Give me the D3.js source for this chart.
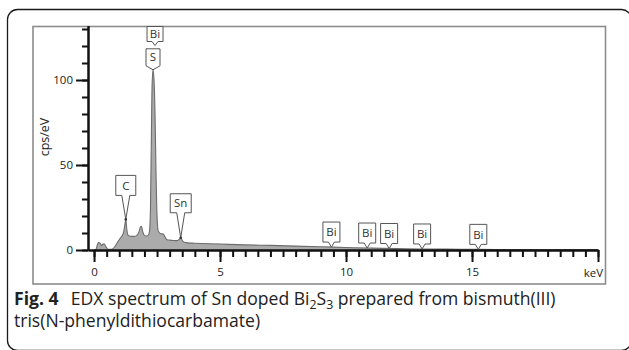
<!DOCTYPE html>
<html>
<head>
<meta charset="utf-8">
<script src="https://cdn.jsdelivr.net/npm/d3@7/dist/d3.min.js"></script>
<style>
  html, body { margin: 0; padding: 0; background: #fff; }
  svg { display: block; }
</style>
</head>
<body>
<svg id="fig" width="629" height="350"></svg>
<script>
// EDX spectrum of Sn doped Bi2S3: energy (keV) vs intensity (cps/eV)
const energyKeV = [
  0.00, 0.08, 0.13, 0.18, 0.24, 0.30, 0.34, 0.40, 0.46, 0.52, 0.58, 0.65,
  0.75, 0.85, 0.95, 1.05, 1.12, 1.18, 1.22, 1.26, 1.30, 1.34, 1.40, 1.50,
  1.60, 1.70, 1.78, 1.84, 1.88, 1.93, 2.00, 2.08, 2.15, 2.20, 2.24, 2.27,
  2.30, 2.34, 2.38, 2.42, 2.46, 2.50, 2.55, 2.65, 2.75, 2.82, 2.90, 3.00,
  3.15, 3.30, 3.38, 3.44, 3.50, 3.58, 3.70, 4.00, 5.00, 6.00, 7.00, 8.00,
  9.00, 10.00, 11.00, 12.00, 13.00, 14.00, 15.00, 16.00, 18.00, 20.00
];
const countsCps = [
  0.0, 0.5, 3.0, 4.4, 4.0, 2.6, 3.4, 3.6, 2.2, 0.8, 0.4, 0.4,
  0.8, 2.5, 5.0, 7.2, 8.5, 11.0, 14.5, 18.0, 12.0, 9.0, 8.2, 8.0,
  8.0, 8.6, 10.5, 13.5, 14.0, 11.0, 8.6, 8.2, 8.6, 11.0, 25.0, 60.0,
  95.0, 106.0, 100.0, 80.0, 45.0, 20.0, 11.0, 9.6, 9.4, 7.5, 6.0, 5.8,
  5.6, 5.5, 6.2, 7.2, 5.6, 4.5, 4.2, 4.0, 3.5, 3.0, 2.7, 2.3,
  1.9, 1.5, 1.1, 0.8, 0.6, 0.5, 0.4, 0.3, 0.2, 0.2
];

// Identified emission lines
const lineElements = ["Bi", "S", "C", "Sn", "Bi", "Bi", "Bi", "Bi", "Bi"];
const lineEnergies = [2.42, 2.34, 1.26, 3.44, 9.42, 10.84, 11.71, 13.02, 15.25];

// Axis ticks
const xMajorTicks = [0, 5, 10, 15, 20];
const xMinorTicks = d3.range(0, 20.01, 0.5);
const yMajorTicks = [0, 50, 100];
const yMinorTicks = d3.range(0, 131, 10);

const svg = d3.select("#fig");
const uiFont = "'Open Sans', sans-serif";

// outer figure border
svg.append("rect")
  .attr("x", 7.5).attr("y", 9.5)
  .attr("width", 624).attr("height", 341)
  .attr("rx", 10).attr("ry", 10)
  .attr("fill", "none").attr("stroke", "#1a1a1a").attr("stroke-width", 1.3);

// plot panel border
svg.append("rect")
  .attr("x", 33).attr("y", 26.5)
  .attr("width", 572.5).attr("height", 257.5)
  .attr("fill", "#fff").attr("stroke", "#8c8c8c").attr("stroke-width", 1.6);

const x = d3.scaleLinear().domain([-0.24, 20]).range([88, 598]);
const y = d3.scaleLinear().domain([0, 132]).range([250, 25.6]);

const pts = energyKeV.map((e, i) => [e, countsCps[i]]);

// spectrum fill and outline
svg.append("path")
  .datum(pts)
  .attr("fill", "#ababab")
  .attr("d", d3.area().x(d => x(d[0])).y0(y(0)).y1(d => y(d[1])).curve(d3.curveMonotoneX));
svg.append("path")
  .datum(pts)
  .attr("fill", "none")
  .attr("stroke", "#6c6c6c")
  .attr("stroke-width", 1.1)
  .attr("d", d3.line().x(d => x(d[0])).y(d => y(d[1])).curve(d3.curveMonotoneX));

// y axis
const gy = svg.append("g").attr("transform", `translate(${x(-0.24)},0)`);
gy.append("g")
  .call(d3.axisLeft(y).tickValues(yMinorTicks).tickSize(6).tickSizeOuter(0).tickFormat(""));
gy.append("g")
  .call(d3.axisLeft(y).tickValues(yMajorTicks).tickSize(12).tickSizeOuter(0).tickPadding(3));
gy.selectAll("path, line").attr("stroke", "#111").attr("stroke-width", 2);
gy.selectAll("text")
  .attr("font-family", uiFont).attr("font-size", 11.5).attr("fill", "#222");

// x axis
const gx = svg.append("g").attr("transform", `translate(0,${y(0)})`);
gx.append("g")
  .call(d3.axisBottom(x).tickValues(xMinorTicks).tickSize(7).tickSizeOuter(0).tickFormat(""));
gx.append("g")
  .call(d3.axisBottom(x).tickValues(xMajorTicks).tickSize(12).tickSizeOuter(0).tickPadding(6)
    .tickFormat(d => d === 20 ? "" : d));
gx.selectAll("path, line").attr("stroke", "#111").attr("stroke-width", 2);
gx.selectAll("text")
  .attr("font-family", uiFont).attr("font-size", 11.5).attr("fill", "#222");

svg.append("text")
  .attr("x", 603).attr("y", 277)
  .attr("text-anchor", "end")
  .attr("font-family", uiFont).attr("font-size", 11.5).attr("fill", "#222")
  .text("keV");

svg.append("text")
  .attr("transform", "translate(49,137) rotate(-90)")
  .attr("text-anchor", "middle")
  .attr("font-family", uiFont).attr("font-size", 12.5).attr("fill", "#222")
  .text("cps/eV");

// callout labels for the emission lines
const interp = e => {
  const i = d3.bisector(d => d).left(energyKeV, e);
  if (i <= 0) return countsCps[0];
  if (i >= energyKeV.length) return countsCps[countsCps.length - 1];
  const t = (e - energyKeV[i - 1]) / (energyKeV[i] - energyKeV[i - 1]);
  return countsCps[i - 1] + t * (countsCps[i] - countsCps[i - 1]);
};

// per label: gap from tip to box bottom, pointer half-width, box size
const calloutLayout = [
  { fixedBottom: 41.5, hw: 3, h: 15, w: 16, lift: 4 },
  { hw: null, h: 17, w: 14, lift: 4 },
  { hw: 4, h: 20, w: 20, lift: 24 },
  { hw: 4, h: 19, w: 21, lift: 25 },
  { hw: 3, h: 20, w: 17, lift: 5 },
  { hw: 3, h: 20, w: 17, lift: 5 },
  { hw: 3, h: 20, w: 17, lift: 5 },
  { hw: 3, h: 20, w: 17, lift: 5 },
  { hw: 3, h: 20, w: 17, lift: 5 }
];

const gl = svg.append("g");
lineElements.forEach((el, i) => {
  const L = calloutLayout[i];
  const tx = x(lineEnergies[i]);
  let ty = y(interp(lineEnergies[i]));
  const g = gl.append("g");
  const t = g.append("text")
    .attr("font-family", uiFont).attr("font-size", 11.5)
    .attr("fill", "#333").attr("text-anchor", "middle")
    .text(el);
  const w = L.w;
  let bottom;
  if (L.fixedBottom !== undefined) {
    bottom = L.fixedBottom;
    ty = bottom + L.lift;
  } else {
    bottom = ty - L.lift;
  }
  const top = bottom - L.h;
  const left = tx - w / 2, right = tx + w / 2;
  const p = d3.path();
  if (L.hw === null) {
    // chamfered bottom running straight into the tip
    p.moveTo(left, top); p.lineTo(right, top); p.lineTo(right, bottom);
    p.lineTo(tx, ty); p.lineTo(left, bottom); p.closePath();
  } else {
    p.moveTo(left, top); p.lineTo(right, top); p.lineTo(right, bottom);
    p.lineTo(tx + L.hw, bottom); p.lineTo(tx, ty); p.lineTo(tx - L.hw, bottom);
    p.lineTo(left, bottom); p.closePath();
  }
  g.insert("path", "text")
    .attr("d", p.toString())
    .attr("fill", "#fff").attr("stroke", "#555").attr("stroke-width", 1)
    .attr("stroke-linejoin", "round");
  if (L.lift > 10) {
    g.insert("circle", "text").attr("cx", tx).attr("cy", ty).attr("r", 1.3).attr("fill", "#333");
  }
  t.attr("x", tx).attr("y", (top + bottom) / 2).attr("dy", "0.36em");
});

// caption (one text block, two lines); first line spans x = 14 .. 556
const capLeft = 14, capRight = 556, capTop = 305, capLineGap = 22;
const cap = svg.append("text")
  .attr("x", capLeft).attr("y", capTop)
  .attr("font-family", uiFont).attr("fill", "#222");
const tFig = cap.append("tspan").attr("font-weight", "bold").text("Fig. 4");
const tRest = [
  cap.append("tspan").attr("class", "gap").text("EDX spectrum of Sn doped Bi"),
  cap.append("tspan").attr("class", "sub").text("2"),
  cap.append("tspan").attr("class", "back").text("S"),
  cap.append("tspan").attr("class", "sub").text("3"),
  cap.append("tspan").attr("class", "back").text(" prepared from bismuth(III)")
];
cap.append("tspan").attr("x", capLeft).attr("y", capTop + capLineGap)
  .text("tris(N-phenyldithiocarbamate)");

function setCaptionSize(s) {
  cap.attr("font-size", s);
  cap.selectAll("tspan.sub").attr("font-size", s * 0.7).attr("dy", s * 0.2);
  cap.selectAll("tspan.back").attr("dy", -s * 0.2);
  const gap = s * 0.7;
  cap.select("tspan.gap").attr("dx", gap);
  return tFig.node().getComputedTextLength() + gap +
    d3.sum(tRest, t => t.node().getComputedTextLength());
}
const base = 16;
const span = setCaptionSize(base);
setCaptionSize(base * (capRight - capLeft) / span);
</script>
</body>
</html>
